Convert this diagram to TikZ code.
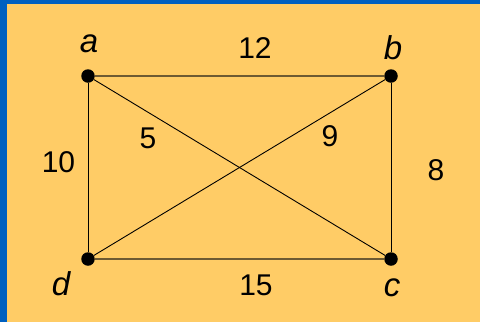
\documentclass[tikz,border=0pt]{standalone}
\usepackage{fontspec}
\setmainfont{Liberation Sans}
\definecolor{bgblue}{RGB}{0,96,192}
\definecolor{bgorange}{RGB}{255,204,102}
\definecolor{hline}{RGB}{110,90,50}
\begin{document}
\begin{tikzpicture}[x=1pt,y=-1pt,
  vtx/.style={circle,fill=black,inner sep=0pt,minimum size=13.5pt},
  lbl/.style={font=\fontsize{33}{36}\selectfont\itshape},
  wt/.style={font=\fontsize{30}{33}\selectfont},
  edge/.style={draw=black,line width=0.9pt},
  hedge/.style={draw=hline,line width=1.6pt}]
\useasboundingbox (0,0) rectangle (480,322);
\fill[bgblue] (0,0) rectangle (480,322);
\fill[bgorange] (7,4) rectangle (480,322);
\node[vtx] (a) at (88,76) {};
\node[vtx] (b) at (391,76) {};
\node[vtx] (d) at (88,259) {};
\node[vtx] (c) at (391,259) {};
\draw[hedge] (a) -- (b);
\draw[hedge] (d) -- (c);
\draw[edge] (a) -- (d);
\draw[edge] (b) -- (c);
\draw[edge] (a) -- (c);
\draw[edge] (b) -- (d);
\node[lbl] (la) at (89,44) {a};
\node[lbl] (lb) at (393,47.5) {b};
\node[lbl] (ld) at (61,284) {d};
\node[lbl] (lc) at (392,287.5) {c};
\node[wt] (w12) at (255,48.5) {12};
\node[wt] (w5) at (148,138) {5};
\node[wt] (w9) at (330,136) {9};
\node[wt] (w10) at (58.5,162.5) {10};
\node[wt] (w8) at (436,170) {8};
\node[wt] (w15) at (256,285) {15};
\end{tikzpicture}
\end{document}
